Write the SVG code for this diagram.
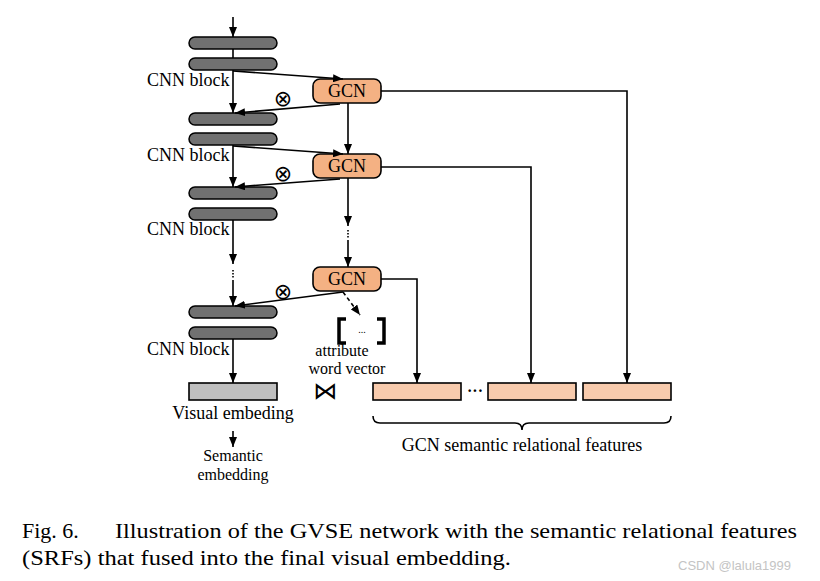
<svg xmlns="http://www.w3.org/2000/svg" width="820" height="581" viewBox="0 0 820 581">
<style>
.bar{fill:#717171;stroke:#000;stroke-width:1.5}
.gcn{fill:#F4B183;stroke:#000;stroke-width:1.6}
.feat{fill:#F8CBAD;stroke:#000;stroke-width:1.6}
.vis{fill:#BFBFBF;stroke:#000;stroke-width:1.6}
.t{font-family:"Liberation Serif","Times New Roman",serif;font-size:18px;fill:#000}
.s{font-family:"Liberation Serif","Times New Roman",serif;font-size:16px;fill:#000}
.c{font-family:"Liberation Serif","Times New Roman",serif;font-size:22px;fill:#000}
.ln{stroke:#000;stroke-width:1.6;fill:none}
.ar{stroke:#000;stroke-width:1.6;fill:none;marker-end:url(#ah)}
.sym{font-family:"DejaVu Sans",sans-serif;fill:#000}
</style>
<defs>
<marker id="ah" viewBox="0 0 10 8" refX="10" refY="4" markerWidth="10" markerHeight="8" markerUnits="userSpaceOnUse" orient="auto">
<path d="M0,0 L10,4 L0,8 z" fill="#000"/>
</marker>
</defs>
<rect width="820" height="581" fill="#fff"/>

<g id="cnn1">
<rect class="bar" x="189" y="37" width="88" height="12" rx="6"/>
<rect class="bar" x="189" y="58" width="88" height="12" rx="6"/>
<text class="t" x="147" y="86">CNN block</text>
</g>
<g id="cnn2">
<rect class="bar" x="189" y="113" width="88" height="12" rx="6"/>
<rect class="bar" x="189" y="133" width="88" height="12" rx="6"/>
<text class="t" x="147" y="161">CNN block</text>
</g>
<g id="cnn3">
<rect class="bar" x="189" y="187" width="88" height="12" rx="6"/>
<rect class="bar" x="189" y="208" width="88" height="12" rx="6"/>
<text class="t" x="147" y="235">CNN block</text>
</g>
<g id="cnn4">
<rect class="bar" x="189" y="306" width="88" height="12" rx="6"/>
<rect class="bar" x="189" y="327" width="88" height="12" rx="6"/>
<text class="t" x="147" y="355">CNN block</text>
</g>

<g id="gcn1">
<rect class="gcn" x="313" y="79" width="68" height="24" rx="7"/>
<text class="t" x="347" y="97" text-anchor="middle">GCN</text>
</g>
<g id="gcn2">
<rect class="gcn" x="313" y="154" width="68" height="24" rx="7"/>
<text class="t" x="347" y="172" text-anchor="middle">GCN</text>
</g>
<g id="gcn3">
<rect class="gcn" x="313" y="267" width="68" height="24" rx="7"/>
<text class="t" x="347" y="285" text-anchor="middle">GCN</text>
</g>

<g id="visual">
<rect class="vis" x="189" y="383" width="88" height="17"/>
<text class="t" x="233" y="419" text-anchor="middle">Visual embeding</text>
</g>
<g id="semantic">
<text class="s" x="233" y="461" text-anchor="middle" font-size="17">Semantic</text>
<text class="s" x="233" y="480" text-anchor="middle" font-size="17">embedding</text>
</g>

<g id="attr">
<path d="M346,319 H339 V343 H346" fill="none" stroke="#000" stroke-width="3.5"/>
<path d="M377,319 H384 V343 H377" fill="none" stroke="#000" stroke-width="3.5"/>
<text x="362" y="333" text-anchor="middle" font-family="Liberation Serif,serif" font-size="10">...</text>
<text class="s" x="342" y="355.5" text-anchor="middle">attribute</text>
<text class="s" x="347" y="373.5" text-anchor="middle">word vector</text>
</g>

<g id="feats">
<rect class="feat" x="373" y="383" width="88" height="17"/>
<rect class="feat" x="488" y="383" width="88" height="17"/>
<rect class="feat" x="583" y="383" width="88" height="17"/>
<text x="475" y="396" text-anchor="middle" font-family="Liberation Serif,serif" font-size="16" font-weight="bold">···</text>
<path class="ln" d="M373,416 q0,7 7,7 h135 q7,0 7,7 q0,-7 7,-7 h135 q7,0 7,-7"/>
<text class="t" x="522" y="451" text-anchor="middle">GCN semantic relational features</text>
</g>

<g id="symbols">
<text class="sym" x="283" y="106" text-anchor="middle" font-size="22">⊗</text>
<text class="sym" x="283" y="181" text-anchor="middle" font-size="22">⊗</text>
<text class="sym" x="283" y="299" text-anchor="middle" font-size="22">⊗</text>
<text class="sym" x="325" y="399" text-anchor="middle" font-size="24">⋈</text>
</g>

<g id="connectors">
<line class="ar" x1="233" y1="17" x2="233" y2="37"/>
<line class="ln" x1="233" y1="49" x2="233" y2="58"/>
<line class="ar" x1="233" y1="70" x2="233" y2="113"/>
<line class="ar" x1="233" y1="71" x2="343" y2="79"/>
<line class="ar" x1="340" y1="104" x2="235" y2="113"/>
<line class="ar" x1="233" y1="145" x2="233" y2="187"/>
<line class="ar" x1="233" y1="146" x2="343" y2="154"/>
<line class="ar" x1="340" y1="179" x2="235" y2="187"/>
<line class="ar" x1="348" y1="103" x2="348" y2="154"/>
<line class="ar" x1="233" y1="220" x2="233" y2="264"/>
<line class="ln" x1="233" y1="270" x2="233" y2="278" stroke-dasharray="1.5 1.5"/>
<line class="ar" x1="233" y1="280" x2="233" y2="306"/>
<line class="ar" x1="348" y1="178" x2="348" y2="226"/>
<line class="ln" x1="348" y1="230" x2="348" y2="238" stroke-dasharray="1.5 1.5"/>
<line class="ar" x1="348" y1="240" x2="348" y2="267"/>
<line class="ar" x1="343" y1="292" x2="235" y2="306"/>
<line class="ar" x1="343" y1="292" x2="360" y2="315" stroke-dasharray="4 3"/>
<line class="ar" x1="233" y1="339" x2="233" y2="383"/>
<line class="ar" x1="233" y1="431" x2="233" y2="447"/>
<polyline class="ar" points="381,91 627,91 627,383"/>
<polyline class="ar" points="381,167 531,167 531,383"/>
<polyline class="ar" points="381,279 417,279 417,383"/>
</g>

<g id="caption">
<text class="c" x="22" y="538">Fig. 6.</text>
<text class="c" x="115" y="538" textLength="682" lengthAdjust="spacingAndGlyphs">Illustration of the GVSE network with the semantic relational features</text>
<text class="c" x="22" y="565" textLength="489" lengthAdjust="spacingAndGlyphs">(SRFs) that fused into the final visual embedding.</text>
<text x="678" y="570" font-family="Liberation Sans,sans-serif" font-size="13" fill="#c4c4c4">CSDN @lalula1999</text>
</g>
</svg>
